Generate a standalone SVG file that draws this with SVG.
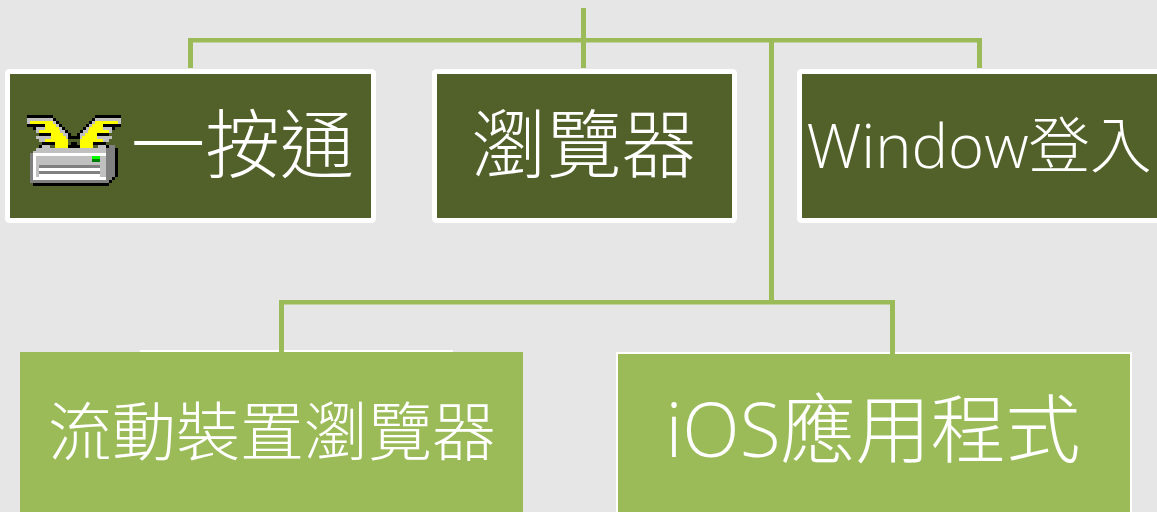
<svg xmlns="http://www.w3.org/2000/svg" xmlns:xlink="http://www.w3.org/1999/xlink" width="1157" height="512" viewBox="0 0 1157 512">
<style>
.t{fill:#fff;font-family:"Open Sans","Noto Sans CJK TC",sans-serif;font-weight:300;text-anchor:middle}
.c{fill:#9bbb59}
.dark{fill:#526129;stroke:#fff;stroke-width:5}
.light{fill:#9bbb59}
.K{fill:#000}.G{fill:#c0c0c0}.D{fill:#808080}.Y{fill:#ff0}.W{fill:#fff}
</style>
<rect width="1157" height="512" fill="#e6e6e6"/>
<g id="node-oneclick">
<rect class="dark" x="7.500" y="71.500" width="366" height="149" rx="2"/>
<text class="t" x="242.500" y="172" font-size="74.500">一按通</text>
<g id="icon" transform="translate(0,60) scale(.33333)" shape-rendering="crispEdges">
<g id="wing">
<path class="G" d="M81 174h87v9h9v9h9v9h9v9h9v9h9v9h-9v27h-54v9H117v-9h9v-9h-9v-9h-9v-9h9v-9h-9v-9H99v-9H81z"/>
<path class="Y" d="M90 183h69v9h9v9h9v9h3v9h9v9h9v9h7v27h-40v-18h-30v-9h18v-18h-36v-9h18v-18h-45z"/>
<path class="K" d="M81 165h78v9h-78zM159 174h9v9h-9zM168 183h9v9h-9zM177 192h9v9h-9zM186 201h9v9h-9zM195 210h9v9h-9zM204 219h9v9h-9zM81 192h54v9H108v9H99v-9H81zM117 219h36v9H117zM125 246h40v9H125zM117 255h9v9h-9zM204 228h18v9h-18zM205 255h35v9h-35zM213 246h18v9h-18z"/>
</g>
<use xlink:href="#wing" href="#wing" transform="matrix(-1 0 0 1 444 0)"/>
<path class="G" d="M108 264h237v9h-9v15H99v-15h9z"/>
<path class="D" d="M318 264h9v-9h18v96h-9v9h-9v9H90V279h9v81h219z"/>
<path class="W" d="M99 279h219v9H108v63h210v9H99z"/>
<rect class="G" x="108" y="288" width="210" height="63"/>
<rect x="276" y="288" width="24" height="9" fill="#0f0"/>
<rect x="276" y="297" width="24" height="9" fill="#008000"/>
<rect class="D" x="117" y="315" width="183" height="9"/>
<rect class="W" x="117" y="324" width="183" height="9"/>
<rect class="D" x="117" y="333" width="183" height="9"/>
<rect class="W" x="117" y="342" width="183" height="9"/>
<path class="K" d="M345 264h9v87h-9zM336 351h9v9h-9zM327 360h9v9h-9zM99 369h228v9H99z"/>
</g>
</g>
<g id="node-browser">
<rect class="dark" x="434.500" y="71.500" width="300" height="149" rx="2"/>
<text class="t" x="584" y="172" font-size="75">瀏覽器</text>
</g>
<g id="node-window">
<rect class="dark" x="799.500" y="71.500" width="370" height="149" rx="2"/>
<text class="t" x="979" y="168" font-size="61.500">Window登入</text>
</g>
<g id="node-mobile">
<rect x="140" y="350" width="313" height="3" fill="#fff"/>
<rect class="light" x="20" y="352" width="503" height="170"/>
<text class="t" x="272" y="455" font-size="64">流動裝置瀏覽器</text>
</g>
<g id="node-ios">
<rect class="light" x="617" y="353" width="514" height="170" stroke="#fff" stroke-width="2"/>
<text class="t" x="873" y="457" font-size="75">iOS應用程式</text>
</g>
<g id="connectors" class="c">
<rect x="581" y="8" width="5" height="60"/>
<rect x="188" y="38" width="794" height="4.500"/>
<rect x="188" y="38" width="5" height="30"/>
<rect x="977" y="38" width="5" height="30"/>
<rect x="769" y="42" width="5" height="260"/>
<rect x="279" y="300" width="615" height="4.500"/>
<rect x="279" y="300" width="5" height="52"/>
<rect x="890" y="300" width="5" height="54"/>
</g>
</svg>
